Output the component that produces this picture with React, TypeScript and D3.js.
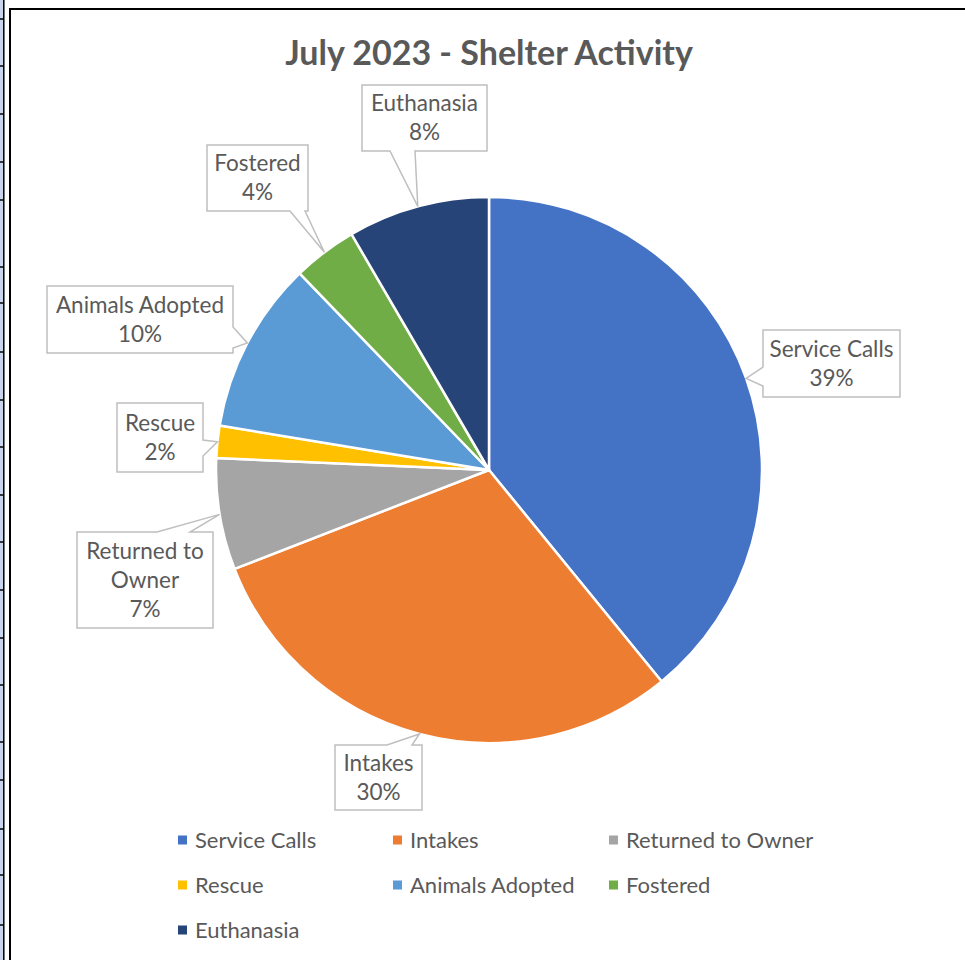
import React from "react";
import * as d3 from "d3";

const categories = ["Service Calls", "Intakes", "Returned to Owner", "Rescue", "Animals Adopted", "Fostered", "Euthanasia"];
const values = [39.1, 30.0, 6.6, 1.9, 10.2, 3.8, 8.4];
const colors = ["#4472C4", "#ED7D31", "#A5A5A5", "#FFC000", "#5B9BD5", "#70AD47", "#264478"];
const title = "July 2023 - Shelter Activity";

// layout of the callout boxes (x, y, w, h, side of pointer, base start, base end)
const callouts = [
  { x: 763, y: 330, w: 137, h: 67, side: "left", b1: 367, b2: 386, lines: ["Service Calls"] },
  { x: 335, y: 745, w: 87, h: 65, side: "top", b1: 387, b2: 412, lines: ["Intakes"] },
  { x: 77, y: 532, w: 136, h: 96, side: "top", b1: 157, b2: 190, lines: ["Returned to", "Owner"] },
  { x: 117, y: 403, w: 86, h: 69, side: "right", b1: 440, b2: 456, lines: ["Rescue"] },
  { x: 47, y: 286, w: 186, h: 67, side: "right", b1: 327, b2: 348, lines: ["Animals Adopted"] },
  { x: 207, y: 145, w: 101, h: 66, side: "bottom", b1: 290, b2: 305, lines: ["Fostered"] },
  { x: 362, y: 85, w: 125, h: 66, side: "bottom", b1: 390, b2: 415, lines: ["Euthanasia"] },
];

const rowLines = [19, 66, 114, 162, 200, 267, 303, 352, 400, 447, 495, 542, 590, 638, 685, 742, 780, 829, 875, 925];

const W = 965, H = 960;
const cx = 489, cy = 470, R = 273;
const FONT = "Lato, 'Open Sans', sans-serif";
const TXT = "#595959";

function calloutPath(c: any, tx: number, ty: number) {
  const { x, y, w, h, side, b1, b2 } = c;
  const r = x + w, b = y + h;
  if (side === "top") return `M${x},${y}L${b1},${y}L${tx},${ty}L${b2},${y}L${r},${y}L${r},${b}L${x},${b}Z`;
  if (side === "right") return `M${x},${y}L${r},${y}L${r},${b1}L${tx},${ty}L${r},${b2}L${r},${b}L${x},${b}Z`;
  if (side === "bottom") return `M${x},${y}L${r},${y}L${r},${b}L${b2},${b}L${tx},${ty}L${b1},${b}L${x},${b}Z`;
  return `M${x},${y}L${r},${y}L${r},${b}L${x},${b}L${x},${b2}L${tx},${ty}L${x},${b1}Z`;
}

export default function App() {
  const total = d3.sum(values);
  const pie = d3.pie<number>().sort(null).startAngle(0).endAngle(2 * Math.PI);
  const arcs = pie(values);
  const arc = d3.arc<d3.PieArcDatum<number>>().innerRadius(0).outerRadius(R);
  const pct = (v: number) => `${Math.round((v / total) * 100)}%`;

  const legendCols = [178, 393, 609];
  const legendRows = [840, 885, 930];

  return (
    <div style={{ position: "absolute", left: 0, top: 0 }}>
      <svg width={W} height={H} style={{ display: "block", background: "#fff" }}>
        {/* spreadsheet edge */}
        <rect x={0} y={0} width={3.5} height={H} fill="#c9d5ec" />
        {rowLines.map((y, i) => (
          <line key={i} x1={0} x2={4} y1={y} y2={y} stroke="#000" strokeWidth={1.5} />
        ))}
        <line x1={3.8} x2={3.8} y1={0} y2={H} stroke="#000" strokeWidth={1.5} />
        <line x1={10} x2={10} y1={8} y2={H} stroke="#000" strokeWidth={2} />
        <line x1={9} x2={W} y1={9} y2={9} stroke="#000" strokeWidth={2} />

        <text x={cx} y={65} textAnchor="middle" fontFamily={FONT} fontWeight="bold" fontSize={34} fill={TXT}>
          {title}
        </text>

        <g transform={`translate(${cx},${cy})`}>
          {arcs.map((a, i) => (
            <path key={i} d={arc(a) || ""} fill={colors[i]} stroke="#fff" strokeWidth={2.5} strokeLinejoin="round" />
          ))}
        </g>

        {arcs.map((a, i) => {
          const c = callouts[i];
          const mid = (a.startAngle + a.endAngle) / 2;
          const tx = cx + R * Math.sin(mid);
          const ty = cy - R * Math.cos(mid);
          const lines = [...c.lines, pct(values[i])];
          const lh = 29;
          const midY = c.y + c.h / 2;
          const y0 = midY - ((lines.length - 1) * lh) / 2;
          return (
            <g key={i}>
              <path d={calloutPath(c, tx, ty)} fill="#fff" stroke="#BFBFBF" strokeWidth={1.5} />
              {lines.map((t, j) => (
                <text key={j} x={c.x + c.w / 2} y={y0 + j * lh} dy="0.35em" textAnchor="middle"
                  fontFamily={FONT} fontSize={22.5} fill={TXT}>
                  {t}
                </text>
              ))}
            </g>
          );
        })}

        {categories.map((name, i) => {
          const x = legendCols[i % 3];
          const y = legendRows[Math.floor(i / 3)];
          return (
            <g key={name}>
              <rect x={x} y={y - 4.5} width={9} height={9} fill={colors[i]} />
              <text x={x + 17} y={y} dy="0.35em" fontFamily={FONT} fontSize={22} fill={TXT}>{name}</text>
            </g>
          );
        })}
      </svg>
    </div>
  );
}
